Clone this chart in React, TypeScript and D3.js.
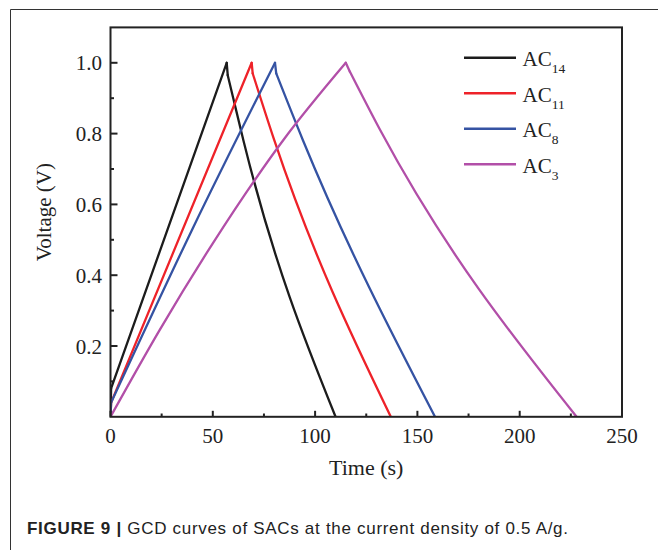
import React from "react";
import * as d3 from "d3";

const seriesNames = ["AC14", "AC11", "AC8", "AC3"];
const seriesSubs = ["14", "11", "8", "3"];
const seriesColors = ["#1c1c1c", "#ee2229", "#3553a3", "#b24fa8"];

const ac14Time = [0, 0.3, 56.8, 57.3, 60, 65, 110];
const ac14Volt = [0, 0.08, 1.0, 0.965, 0.9, 0.78, 0];
const ac11Time = [0, 0.3, 69, 69.5, 80, 137];
const ac11Volt = [0, 0.04, 1.0, 0.97, 0.782, 0];
const ac8Time = [0, 0.3, 40, 80.4, 81, 94, 158.6];
const ac8Volt = [0, 0.04, 0.53, 1.0, 0.97, 0.782, 0];
const ac3Time = [0, 24, 50, 84.5, 115, 117, 131.8, 227.8];
const ac3Volt = [0, 0.245, 0.49, 0.782, 1.0, 0.975, 0.81, 0];

const xMajorTicks = [0, 50, 100, 150, 200, 250];
const xMinorTicks = [25, 75, 125, 175, 225];
const yMajorTicks = [0.2, 0.4, 0.6, 0.8, 1.0];
const yMinorTicks = [0.1, 0.3, 0.5, 0.7, 0.9];

const xTitle = "Time (s)";
const yTitle = "Voltage (V)";
const captionBold = "FIGURE 9 |";
const captionText = " GCD curves of SACs at the current density of 0.5 A/g.";

const allTimes = [ac14Time, ac11Time, ac8Time, ac3Time];
const allVolts = [ac14Volt, ac11Volt, ac8Volt, ac3Volt];

export default function App() {
  const left = 110.5, right = 622, top = 27.4, bottom = 416.8;
  const x = d3.scaleLinear().domain([0, 250]).range([left, right]);
  const y = d3.scaleLinear().domain([0, 1.1]).range([bottom, top]);
  const smooth = d3
    .line<[number, number]>()
    .x((d) => x(d[0]))
    .y((d) => y(d[1]))
    .curve(d3.curveMonotoneX);
  const straight = d3
    .line<[number, number]>()
    .x((d) => x(d[0]))
    .y((d) => y(d[1]))
    .curve(d3.curveLinear);

  const serif = "'Liberation Serif', 'Times New Roman', serif";
  const sans = "'Liberation Sans', Arial, sans-serif";
  const fmt = d3.format(".1f");

  return (
    <svg
      width={658}
      height={550}
      style={{ position: "absolute", left: 0, top: 0, background: "#fff" }}
    >
      <path d="M10.5,550 V9.5 H658" fill="none" stroke="#333" strokeWidth={1} />
      <defs>
        <clipPath id="clip">
          <rect x={left} y={top} width={right - left} height={bottom - top} />
        </clipPath>
      </defs>
      <g clipPath="url(#clip)">
        {seriesNames.map((n, i) => {
          const pts: [number, number][] = allTimes[i].map((t, k) => [t, allVolts[i][k]]);
          const peak = d3.maxIndex(pts, (d) => d[1]);
          const up = pts.slice(0, peak + 1);
          const down = pts.slice(peak);
          const segs: { d: string }[] = [];
          if (up[1][0] < 1) {
            segs.push({ d: straight(up.slice(0, 2)) || "" });
            segs.push({ d: smooth(up.slice(1)) || "" });
          } else {
            segs.push({ d: smooth(up) || "" });
          }
          segs.push({ d: straight(down.slice(0, 2)) || "" });
          segs.push({ d: smooth(down.slice(1)) || "" });
          return (
            <g key={n}>
              {segs.map((s, j) => (
                <path
                  key={j}
                  d={s.d}
                  fill="none"
                  stroke={seriesColors[i]}
                  strokeWidth={2.3}
                  strokeLinejoin="round"
                  strokeLinecap="round"
                />
              ))}
            </g>
          );
        })}
      </g>
      <rect
        x={left}
        y={top}
        width={right - left}
        height={bottom - top}
        fill="none"
        stroke="#222"
        strokeWidth={2}
      />
      {xMajorTicks.map((t) => (
        <g key={"xm" + t}>
          <line x1={x(t)} x2={x(t)} y1={bottom} y2={bottom - 6} stroke="#222" strokeWidth={2} />
          <text x={x(t)} y={443} textAnchor="middle" fontFamily={serif} fontSize={21} fill="#222">
            {t}
          </text>
        </g>
      ))}
      {xMinorTicks.map((t) => (
        <line key={"xn" + t} x1={x(t)} x2={x(t)} y1={bottom} y2={bottom - 3.3} stroke="#222" strokeWidth={2} />
      ))}
      {yMajorTicks.map((t) => (
        <g key={"ym" + t}>
          <line x1={left} x2={left + 7} y1={y(t)} y2={y(t)} stroke="#222" strokeWidth={2} />
          <text
            x={102}
            y={y(t)}
            dy="0.36em"
            textAnchor="end"
            fontFamily={serif}
            fontSize={21}
            fill="#222"
          >
            {fmt(t)}
          </text>
        </g>
      ))}
      {yMinorTicks.map((t) => (
        <line key={"yn" + t} x1={left} x2={left + 3.5} y1={y(t)} y2={y(t)} stroke="#222" strokeWidth={2} />
      ))}
      <text x={(left + right) / 2} y={475} textAnchor="middle" fontFamily={serif} fontSize={22} fill="#222">
        {xTitle}
      </text>
      <text
        transform={`translate(51, ${(top + bottom) / 2 - 10}) rotate(-90)`}
        textAnchor="middle"
        fontFamily={serif}
        fontSize={21}
        fill="#222"
      >
        {yTitle}
      </text>
      {seriesNames.map((n, i) => {
        const ly = 57.7 + i * 35.5;
        return (
          <g key={"lg" + n}>
            <line x1={464} x2={516} y1={ly} y2={ly} stroke={seriesColors[i]} strokeWidth={2.5} />
            <text x={522.5} y={ly + 8.3} fontFamily={serif} fontSize={21} fill="#222">
              AC
              <tspan fontSize={13.5} dy={7}>
                {seriesSubs[i]}
              </tspan>
            </text>
          </g>
        );
      })}
      <text
        x={27}
        y={534}
        fontFamily={sans}
        fontSize={17}
        fill="#222"
        textLength={541}
        lengthAdjust="spacing"
      >
        <tspan fontWeight="bold">{captionBold}</tspan>
        <tspan>{captionText}</tspan>
      </text>
    </svg>
  );
}
